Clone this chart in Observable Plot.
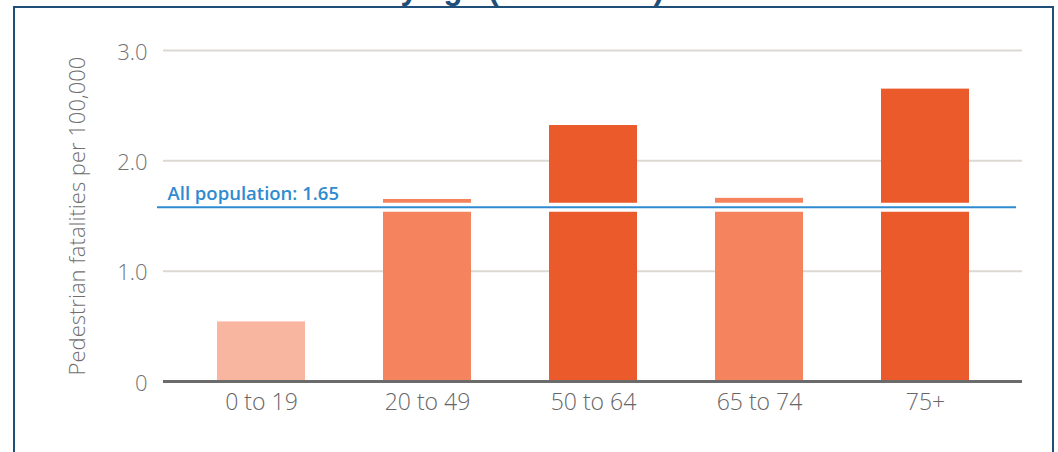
<!DOCTYPE html>
<html><head><meta charset="utf-8">
<script src="https://cdn.jsdelivr.net/npm/d3@7"></script>
<script src="https://cdn.jsdelivr.net/npm/@observablehq/plot@0.6"></script>
<style>
html,body{margin:0;padding:0;background:#fff;width:1058px;height:452px;overflow:hidden;}
#wrap{position:relative;width:1058px;height:452px;overflow:hidden;}
#title{position:absolute;top:-27px;left:80px;font:bold 31px "Liberation Sans",Arial,sans-serif;line-height:31px;color:#1f4e79;white-space:nowrap;}
#frame{position:absolute;left:13px;top:6px;width:1041px;height:480px;border:2px solid #1f4e79;box-sizing:border-box;}
#chart{position:absolute;left:0;top:0;}
</style></head>
<body><div id="wrap"><div id="title">Pedestrian fatalities by age (2012–2016)</div><div id="frame"></div><div id="chart"></div></div>
<script>
const ages = ["0 to 19", "20 to 49", "50 to 64", "65 to 74", "75+"];
const rates = [0.54, 1.65, 2.32, 1.66, 2.65];
const shades = ["#f8b59f", "#f5845e", "#eb5a2a", "#f5845e", "#eb5a2a"];
const yTicks = [0, 1, 2, 3];
const yTickLabels = ["0", "1.0", "2.0", "3.0"];
const allPopLine = 1.58;
const allPopLabel = "All population: 1.65";
const yAxisLabel = "Pedestrian fatalities per 100,000";

const data = ages.map((a, i) => ({age: a, rate: rates[i], shade: shades[i]}));

const chart = Plot.plot({
  width: 1058, height: 452,
  marginLeft: 177, marginRight: 49, marginTop: 50, marginBottom: 71,
  style: {fontFamily: "'Open Sans', 'Liberation Sans', Arial, sans-serif", background: "transparent"},
  x: {domain: ages, paddingInner: 0.47, paddingOuter: 0.235, label: null},
  y: {domain: [0, 3], label: null},
  marks: [
    Plot.ruleY(yTicks.filter(d => d > 0), {stroke: "#dcd9d3", strokeWidth: 2, insetLeft: -14, insetRight: -13}),
    Plot.barY(data, {x: "age", y: "rate", fill: "shade"}),
    Plot.ruleY([0], {stroke: "#6b6b6b", strokeWidth: 3, insetLeft: -14, insetRight: -13}),
    Plot.ruleY([allPopLine], {stroke: "#fff", strokeWidth: 9, insetLeft: -20, insetRight: -7}),
    Plot.ruleY([allPopLine], {stroke: "#2e8bd0", strokeWidth: 2, insetLeft: -20, insetRight: -7}),
    Plot.text([allPopLabel], {y: [allPopLine], text: d => d, frameAnchor: "left", textAnchor: "start", dx: -10, dy: -13, fontSize: 18.5, fontWeight: 600, fill: "#2e8bd0"}),
    Plot.text([yAxisLabel], {text: d => d, frameAnchor: "left", textAnchor: "middle", rotate: -90, dx: -100, fontSize: 22, fontWeight: 300, fill: "#6f6f6f"}),
    Plot.axisY({ticks: yTicks, tickFormat: d => yTickLabels[yTicks.indexOf(d)], tickSize: 0, tickPadding: 30, fontSize: 22, fontWeight: 300, color: "#737373", label: null, dy: 2}),
    Plot.axisX({tickSize: 0, tickPadding: 12, fontSize: 23, fontWeight: 300, color: "#666", label: null})
  ]
});
document.getElementById("chart").appendChild(chart);
</script></body></html>
